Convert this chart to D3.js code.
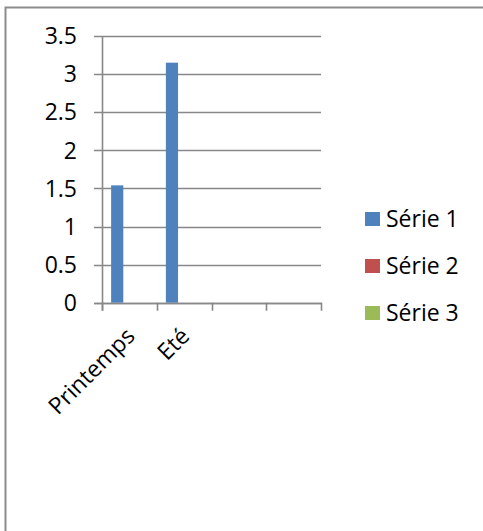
<!DOCTYPE html>
<html><head><meta charset="utf-8">
<script src="https://cdn.jsdelivr.net/npm/d3@7"></script>
<style>html,body{margin:0;padding:0;background:#fff;overflow:hidden}</style>
</head><body>
<script>
const categories = ["Printemps", "Eté", "", ""];
const seriesNames = ["Série 1", "Série 2", "Série 3"];
const serie1 = [1.54, 3.15, 0, 0];
const serie2 = [0, 0, 0, 0];
const serie3 = [0, 0, 0, 0];
const yTicks = [0, 0.5, 1, 1.5, 2, 2.5, 3, 3.5];
const colors = ["#4F81BD", "#C0504D", "#9BBB59"];

(function () {
const W = 483, H = 531;
const svg = d3.select("body").append("svg").attr("width", W).attr("height", H);
const font = "'Open Sans', sans-serif";
const fs = 23;

// outer border
svg.append("rect").attr("x", 5.5).attr("y", 7.5).attr("width", 600).attr("height", 600)
  .attr("fill", "none").attr("stroke", "#8c8c8c").attr("stroke-width", 2);

const pLeft = 102, pRight = 321, pTop = 36, pBottom = 302.7;
const x = d3.scaleBand().domain(d3.range(categories.length)).range([pLeft, pRight]).paddingInner(0).paddingOuter(0);
const y = d3.scaleLinear().domain([0, 3.5]).range([pBottom, pTop]);
const seriesData = [serie1, serie2, serie3];
const bw = x.bandwidth();
const barW = bw / 4.5;
const xs = d3.scaleBand().domain(d3.range(3)).range([barW * 0.75, barW * 3.75]).padding(0);

// gridlines
svg.append("g").selectAll("line").data(yTicks).join("line")
  .attr("x1", pLeft - 8).attr("x2", pRight).attr("y1", d => Math.round(y(d)) + 0.5).attr("y2", d => Math.round(y(d)) + 0.5)
  .attr("stroke", "#888").attr("stroke-width", 1.6);

// y labels
svg.append("g").selectAll("text").data(yTicks).join("text")
  .attr("x", 77).attr("y", d => y(d)).attr("dy", "0.36em").attr("text-anchor", "end")
  .attr("font-family", font).attr("font-size", fs).attr("fill", "#000")
  .text(d => d3.format("")(d));

// bars
seriesData.forEach((vals, si) => {
  svg.append("g").selectAll("rect").data(vals).join("rect")
    .attr("x", (d, i) => x(i) + xs(si)).attr("width", xs.bandwidth())
    .attr("y", d => y(d)).attr("height", d => y(0) - y(d))
    .attr("fill", colors[si]);
});

// axes lines
svg.append("line").attr("x1", pLeft + 0.5).attr("x2", pLeft + 0.5).attr("y1", pTop).attr("y2", pBottom + 8)
  .attr("stroke", "#888").attr("stroke-width", 1.6);
svg.append("line").attr("x1", pLeft - 8).attr("x2", pRight + 1).attr("y1", Math.round(pBottom) + 0.5).attr("y2", Math.round(pBottom) + 0.5)
  .attr("stroke", "#888").attr("stroke-width", 1.6);
const bounds = d3.range(categories.length + 1).map(i => i < categories.length ? x(i) : pRight);
svg.append("g").selectAll("line").data(bounds).join("line")
  .attr("x1", d => Math.round(d) + 0.5).attr("x2", d => Math.round(d) + 0.5)
  .attr("y1", pBottom).attr("y2", pBottom + 8)
  .attr("stroke", "#888").attr("stroke-width", 1.6);

// category labels
svg.append("g").selectAll("text").data(categories).join("text")
  .attr("transform", (d, i) => `translate(${x(i) + bw / 2 + 1},${pBottom + 29}) rotate(-45)`)
  .attr("text-anchor", "end").attr("dy", "0.36em")
  .attr("font-family", font).attr("font-size", fs).attr("fill", "#000")
  .text(d => d);

// legend
const lg = svg.append("g");
seriesNames.forEach((n, i) => {
  const cy = 219 + i * 47;
  lg.append("rect").attr("x", 365).attr("y", cy - 7).attr("width", 15).attr("height", 14).attr("fill", colors[i]);
  lg.append("text").attr("x", 386).attr("y", cy).attr("dy", "0.36em")
    .attr("font-family", font).attr("font-size", fs).attr("fill", "#000").text(n);
});
})();
</script>
</body></html>
